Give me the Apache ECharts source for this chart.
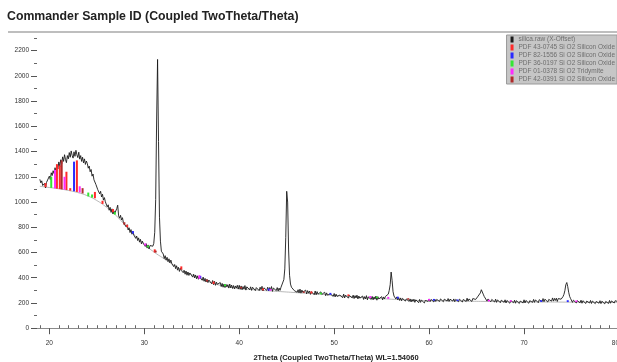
<!DOCTYPE html>
<html>
<head>
<meta charset="utf-8">
<script src="https://cdn.jsdelivr.net/npm/echarts@6/dist/echarts.min.js"></script>
<style>
html, body { margin: 0; padding: 0; background: #fff; }
#chart { width: 617px; height: 362px; }
</style>
</head>
<body>
<div id="chart"></div>
<script>
// scan: starts at 19.0 deg, one reading every 0.1 deg (one row per degree)
const scanStart = 19.0;
const scanStep = 0.1;
const counts = [
  1180, 1152, 1168, 1131, 1120, 1148, 1112, 1155, 1170, 1146,
  1205, 1178, 1232, 1210, 1248, 1226, 1272, 1240, 1295, 1262,
  1318, 1280, 1335, 1302, 1358, 1322, 1375, 1338, 1312, 1368,
  1342, 1392, 1355, 1405, 1370, 1348, 1398, 1362, 1410, 1375,
  1352, 1395, 1340, 1368, 1322, 1355, 1310, 1342, 1298, 1325,
  1305, 1268, 1285, 1240, 1258, 1205, 1222, 1176, 1190, 1140,
  1142, 1098, 1112, 1065, 1085, 1040, 1062, 1015, 1035, 1002,
  1008, 962, 978, 935, 958, 918, 946, 905, 930, 912,
  922, 948, 975, 890, 872, 895, 858, 876, 838, 852,
  835, 802, 820, 778, 796, 758, 782, 745, 765, 738,
  748, 712, 730, 695, 716, 682, 704, 668, 690, 672,
  682, 648, 670, 635, 660, 628, 655, 640, 662, 650,
  672, 760, 1020, 1650, 2130, 1480, 880, 690, 610, 595,
  588, 552, 575, 540, 562, 528, 550, 518, 540, 512,
  525, 488, 505, 472, 495, 460, 482, 450, 475, 458,
  472, 440, 458, 428, 452, 420, 445, 418, 438, 425,
  440, 405, 428, 398, 422, 392, 415, 388, 410, 395,
  412, 380, 405, 372, 395, 366, 388, 362, 382, 370,
  385, 352, 378, 345, 372, 340, 365, 348, 360, 342,
  362, 330, 355, 325, 350, 322, 348, 328, 345, 318,
  350, 320, 342, 315, 338, 312, 335, 318, 340, 310,
  340, 308, 335, 305, 330, 310, 338, 302, 328, 315,
  335, 305, 328, 300, 325, 312, 338, 298, 322, 310,
  330, 298, 325, 305, 332, 295, 320, 308, 328, 300,
  325, 296, 322, 302, 330, 292, 318, 305, 325, 298,
  322, 295, 318, 300, 325, 310, 340, 385, 470, 720,
  1085, 1000, 620, 420, 350, 325, 310, 322, 298, 312,
  312, 285, 305, 280, 310, 278, 302, 285, 298, 275,
  302, 272, 298, 278, 295, 268, 290, 275, 288, 265,
  295, 265, 290, 270, 285, 262, 288, 268, 280, 258,
  285, 258, 280, 262, 275, 250, 272, 258, 270, 252,
  275, 248, 270, 252, 266, 245, 262, 250, 268, 242,
  270, 240, 262, 248, 265, 238, 260, 245, 258, 240,
  262, 235, 258, 240, 262, 232, 255, 238, 252, 230,
  255, 228, 250, 232, 258, 225, 248, 235, 250, 228,
  252, 225, 248, 230, 255, 222, 250, 232, 245, 228,
  250, 225, 248, 232, 252, 238, 255, 270, 300, 345,
  445, 380, 290, 255, 240, 232, 248, 225, 242, 220,
  240, 218, 236, 222, 238, 215, 232, 220, 235, 212,
  232, 208, 228, 212, 230, 205, 225, 210, 222, 202,
  228, 205, 222, 210, 226, 200, 220, 208, 225, 212,
  232, 210, 228, 215, 235, 208, 230, 212, 228, 215,
  238, 212, 232, 218, 236, 210, 230, 220, 235, 215,
  235, 212, 230, 218, 238, 215, 232, 210, 228, 220,
  236, 210, 230, 215, 234, 208, 228, 218, 232, 212,
  238, 215, 232, 220, 236, 212, 235, 222, 240, 228,
  232, 248, 240, 262, 280, 305, 295, 270, 252, 240,
  238, 215, 232, 218, 230, 210, 228, 215, 226, 208,
  230, 205, 225, 212, 228, 202, 222, 210, 225, 205,
  225, 200, 220, 206, 222, 198, 218, 205, 220, 202,
  222, 198, 218, 204, 220, 196, 215, 202, 218, 200,
  225, 200, 220, 205, 222, 198, 218, 206, 224, 205,
  228, 205, 225, 210, 230, 202, 226, 212, 232, 210,
  235, 210, 230, 215, 232, 208, 228, 218, 236, 215,
  240, 215, 236, 220, 238, 212, 235, 225, 242, 230,
  238, 250, 268, 298, 345, 362, 330, 285, 252, 235,
  228, 205, 222, 210, 225, 200, 218, 206, 222, 202,
  222, 198, 218, 204, 220, 196, 215, 202, 218, 200,
  220, 196, 215, 202, 218, 195, 212, 200, 216, 198,
  218, 195, 214, 200, 216, 193, 212, 202, 218, 196,
  220, 198, 216, 205, 222, 200, 218, 206, 225, 210,
  222
];

// fitted background
const bgAngles = [19, 20, 21, 22, 23, 24, 25, 26, 27, 28, 29, 30, 31, 32, 33, 34, 35, 36, 37, 38, 39, 40,
  42, 44, 46, 48, 50, 52, 54, 56, 58, 60, 62, 64, 66, 68, 70, 72, 74, 76, 78, 80];
const bgCounts = [1125, 1115, 1105, 1092, 1075, 1050, 1012, 960, 895, 815, 735, 665, 605, 555, 505, 462, 425, 390, 362, 340, 325, 315,
  302, 292, 282, 272, 260, 248, 238, 230, 222, 218, 216, 214, 212, 210, 208, 208, 207, 206, 205, 205];

// reference sticks: [2theta, bottom, top]
const pdf430745 = [[19.6, 1118, 1150], [20.8, 1106, 1300], [21.1, 1103, 1290], [21.8, 1095, 1240], [22.2, 1090, 1110],
  [22.9, 1080, 1330], [24.8, 1030, 1080], [25.6, 985, 1010], [26.7, 920, 945], [28.2, 800, 820], [31.1, 600, 625],
  [33.9, 465, 490], [37.3, 350, 370], [42.5, 300, 315], [47.6, 275, 292], [51.5, 255, 268]];
const pdf821556 = [[22.6, 1085, 1320], [28.8, 750, 770], [35.9, 395, 415], [43.1, 298, 315], [49.6, 265, 280],
  [56.7, 235, 250], [60.5, 218, 232], [63.0, 215, 228], [71.8, 208, 222], [74.6, 207, 222]];
const pdf360197 = [[20.2, 1112, 1200], [24.1, 1045, 1075], [24.5, 1035, 1060], [26.9, 900, 920], [30.4, 640, 655],
  [38.5, 333, 348], [48.6, 268, 282], [54.5, 238, 250]];
const pdf010378 = [[20.6, 1108, 1255], [21.6, 1098, 1200], [23.2, 1075, 1125], [30.1, 655, 672], [35.8, 392, 420],
  [43.3, 297, 310], [53.8, 240, 255], [55.7, 233, 248], [60.0, 218, 232], [66.3, 212, 226], [68.6, 210, 222], [75.5, 207, 220]];
const pdf420391 = [[21.3, 1100, 1330], [23.5, 1068, 1110], [27.9, 820, 840], [31.2, 600, 615], [36.6, 370, 385],
  [40.2, 315, 328], [46.8, 280, 292], [57.8, 226, 238]];

const xLabelValues = [20, 30, 40, 50, 60, 70, 80];
const xMinorValues = [19, 21, 22, 23, 24, 25, 26, 27, 28, 29, 31, 32, 33, 34, 35, 36, 37, 38, 39, 41, 42, 43, 44, 45, 46, 47, 48, 49,
  51, 52, 53, 54, 55, 56, 57, 58, 59, 61, 62, 63, 64, 65, 66, 67, 68, 69, 71, 72, 73, 74, 75, 76, 77, 78, 79];
const yLabelValues = [0, 200, 400, 600, 800, 1000, 1200, 1400, 1600, 1800, 2000, 2200];
const yMinorValues = [100, 300, 500, 700, 900, 1100, 1300, 1500, 1700, 1900, 2100, 2300];

const FONT = '"Liberation Sans", Arial, sans-serif';

const scanData = counts.map((c, i) => [+(scanStart + i * scanStep).toFixed(1), c]);
const bgData = bgAngles.map((a, i) => [a, bgCounts[i]]);

function stickRender(params, api) {
  const p0 = api.coord([api.value(0), api.value(1)]);
  const p1 = api.coord([api.value(0), api.value(2)]);
  return {
    type: 'line',
    shape: { x1: p0[0], y1: p0[1], x2: p1[0], y2: p1[1] },
    style: { stroke: api.visual('color'), lineWidth: 2 }
  };
}

function stickSeries(name, color, data) {
  return {
    name: name,
    type: 'custom',
    renderItem: stickRender,
    itemStyle: { color: color },
    encode: { x: 0, y: [1, 2] },
    data: data,
    silent: true,
    z: 4
  };
}

const chart = echarts.init(document.getElementById('chart'), null, { renderer: 'canvas' });

const xBase = {
  type: 'value', min: 18.7, max: 80, gridIndex: 0,
  splitLine: { show: false }
};
const yBase = {
  type: 'value', min: -30, max: 2300, gridIndex: 0,
  splitLine: { show: false },
  axisLine: { show: false }
};

chart.setOption({
  animation: false,
  textStyle: { fontFamily: FONT },
  title: {
    text: 'Commander Sample ID (Coupled TwoTheta/Theta)',
    left: 7, top: 11, padding: 0,
    textStyle: { fontSize: 12.3, fontWeight: 'bold', color: '#222', fontFamily: FONT }
  },
  grid: { left: 37, right: -2, top: 38, bottom: 30, containLabel: false, outerBoundsMode: 'none' },
  legend: {
    orient: 'vertical',
    right: 0, top: 35,
    icon: 'rect',
    itemWidth: 3, itemHeight: 6, itemGap: 1,
    padding: [1, 2, 1, 4],
    backgroundColor: '#c6c6c6',
    borderColor: '#9a9a9a', borderWidth: 1,
    textStyle: { fontSize: 6.5, lineHeight: 7, color: '#6e6e6e', fontFamily: FONT },
    selectedMode: false,
    data: ['silica.raw (X-Offset)', 'PDF 43-0745 Si O2 Silicon Oxide', 'PDF 82-1556 Si O2 Silicon Oxide',
      'PDF 36-0197 Si O2 Silicon Oxide', 'PDF 01-0378 Si O2 Tridymite', 'PDF 42-0391 Si O2 Silicon Oxide']
  },
  xAxis: [
    Object.assign({}, xBase, {
      name: '2Theta (Coupled TwoTheta/Theta) WL=1.54060',
      nameLocation: 'middle', nameGap: 22,
      nameTextStyle: { fontSize: 7.5, fontWeight: 'bold', color: '#222', padding: [0, 0, 0, 16] },
      axisLine: { show: true, lineStyle: { color: '#8a8a8a', width: 1 } },
      axisTick: { show: true, length: 6, customValues: xLabelValues, lineStyle: { color: '#555' } },
      axisLabel: { customValues: xLabelValues, fontSize: 6.5, color: '#333', margin: 8, alignMaxLabel: 'right' }
    }),
    Object.assign({}, xBase, {
      axisLine: { show: false },
      axisTick: { show: true, length: 3, customValues: xMinorValues, lineStyle: { color: '#666' } },
      axisLabel: { show: false }
    })
  ],
  yAxis: [
    Object.assign({}, yBase, {
      name: 'Counts',
      nameLocation: 'middle', nameGap: 22,
      nameTextStyle: { fontSize: 8, color: '#222', padding: [0, 0, 18, 0] },
      axisTick: { show: true, length: 6, customValues: yLabelValues, lineStyle: { color: '#555' } },
      axisLabel: { customValues: yLabelValues, fontSize: 6.5, color: '#333', margin: 8,
        formatter: function (v) { return String(v); } }
    }),
    Object.assign({}, yBase, {
      position: 'left',
      axisTick: { show: true, length: 3, customValues: yMinorValues, lineStyle: { color: '#666' } },
      axisLabel: { show: false }
    })
  ],
  graphic: [{
    type: 'line',
    shape: { x1: 8, y1: 32, x2: 617, y2: 32 },
    style: { stroke: '#a8a8a8', lineWidth: 1.5 }
  }],
  series: [
    {
      name: 'background',
      type: 'line',
      data: bgData,
      symbol: 'none',
      smooth: true,
      lineStyle: { color: '#9a9a9a', width: 0.7 },
      itemStyle: { color: '#9a9a9a' },
      silent: true,
      z: 2
    },
    {
      name: 'silica.raw (X-Offset)',
      type: 'line',
      data: scanData,
      symbol: 'none',
      lineStyle: { color: '#1a1a1a', width: 0.9 },
      itemStyle: { color: '#1a1a1a' },
      silent: true,
      z: 3
    },
    stickSeries('PDF 43-0745 Si O2 Silicon Oxide', '#ff2a2a', pdf430745),
    stickSeries('PDF 82-1556 Si O2 Silicon Oxide', '#2a2aff', pdf821556),
    stickSeries('PDF 36-0197 Si O2 Silicon Oxide', '#33e633', pdf360197),
    stickSeries('PDF 01-0378 Si O2 Tridymite', '#ff2aff', pdf010378),
    stickSeries('PDF 42-0391 Si O2 Silicon Oxide', '#b02a2a', pdf420391)
  ]
});
</script>
</body>
</html>
